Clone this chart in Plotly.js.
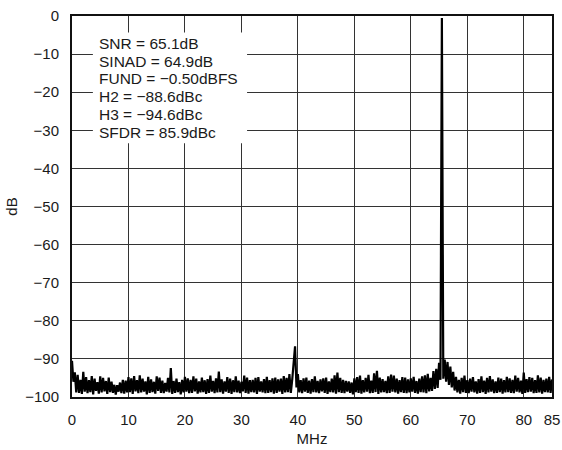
<!DOCTYPE html>
<html>
<head>
<meta charset="utf-8">
<script src="https://cdn.plot.ly/plotly-3.0.1.min.js"></script>
<style>html,body{margin:0;padding:0;background:#fff;}#chart{width:562px;height:450px;}</style>
</head>
<body>
<div id="chart"></div>
<script>
// FFT bins: 0 to 85 MHz, 0.25 MHz spacing
var binStart = 0;
var binStep = 0.25;

// Magnitude (dB) per bin (4 bins per MHz)
var magnitude = [
  -90.5, -96.0, -93.5, -98.8,   // 0
  -94.2, -98.9, -95.5, -99.2,   // 1
  -93.4, -98.6, -94.8, -99.0,   // 2
  -95.6, -98.7, -94.5, -99.3,   // 3
  -95.2, -98.4, -96.1, -99.1,   // 4
  -94.6, -98.8, -95.0, -98.5,   // 5
  -95.8, -99.2, -94.9, -98.7,   // 6
  -96.0, -98.9, -96.8, -99.4,   // 7
  -96.9, -98.6, -96.2, -99.0,   // 8
  -95.5, -99.1, -95.7, -98.8,   // 9
  -94.8, -98.7, -95.1, -99.2,   // 10
  -94.5, -98.5, -95.6, -99.0,   // 11
  -94.3, -98.8, -95.2, -98.6,   // 12
  -95.9, -99.3, -94.7, -98.9,   // 13
  -95.4, -98.7, -96.0, -99.1,   // 14
  -94.6, -98.4, -94.9, -98.9,   // 15
  -95.7, -99.0, -96.3, -98.6,   // 16
  -95.0, -98.8, -92.4, -99.2,   // 17
  -95.8, -98.9, -95.2, -98.7,   // 18
  -96.1, -99.3, -95.5, -98.8,   // 19
  -94.7, -98.6, -95.1, -99.0,   // 20
  -95.5, -98.9, -94.6, -98.5,   // 21
  -95.2, -99.1, -95.9, -98.8,   // 22
  -94.9, -98.7, -95.6, -99.2,   // 23
  -95.3, -98.9, -94.4, -98.6,   // 24
  -95.8, -99.0, -95.1, -98.8,   // 25
  -93.3, -98.7, -95.4, -99.1,   // 26
  -95.9, -98.6, -94.8, -98.9,   // 27
  -95.2, -99.2, -95.6, -98.7,   // 28
  -94.6, -98.8, -95.7, -99.0,   // 29
  -96.0, -98.5, -94.4, -98.9,   // 30
  -94.9, -99.1, -95.6, -98.7,   // 31
  -95.5, -98.8, -95.0, -99.2,   // 32
  -94.8, -98.6, -95.9, -98.8,   // 33
  -95.3, -99.0, -94.7, -98.9,   // 34
  -95.6, -98.7, -95.1, -99.1,   // 35
  -94.9, -98.9, -95.4, -98.6,   // 36
  -95.2, -99.2, -94.5, -98.8,   // 37
  -95.0, -98.7, -94.0, -98.9,   // 38
  -95.4, -91.5, -86.7, -97.5,   // 39
  -94.0, -98.8, -95.6, -99.0,   // 40
  -95.1, -98.6, -94.9, -98.9,   // 41
  -95.7, -99.1, -95.3, -98.7,   // 42
  -94.6, -98.8, -95.8, -99.0,   // 43
  -95.4, -98.5, -95.1, -98.9,   // 44
  -94.9, -99.2, -95.9, -98.7,   // 45
  -95.2, -98.8, -94.3, -99.1,   // 46
  -93.6, -98.7, -95.0, -98.9,   // 47
  -95.5, -99.0, -95.8, -98.6,   // 48
  -95.9, -98.9, -96.2, -99.3,   // 49
  -95.1, -98.7, -94.8, -98.9,   // 50
  -94.4, -99.1, -95.6, -98.8,   // 51
  -95.0, -98.6, -94.2, -99.0,   // 52
  -95.7, -98.9, -93.8, -98.7,   // 53
  -93.1, -99.2, -94.9, -98.8,   // 54
  -95.3, -98.7, -95.8, -99.0,   // 55
  -94.6, -98.9, -94.1, -98.6,   // 56
  -94.4, -98.8, -95.2, -99.1,   // 57
  -95.6, -98.7, -94.8, -98.9,   // 58
  -94.9, -99.0, -95.4, -98.8,   // 59
  -95.1, -98.6, -94.7, -98.9,   // 60
  -95.8, -99.1, -95.2, -98.7,   // 61
  -94.6, -98.8, -94.3, -99.0,   // 62
  -93.9, -98.5, -95.0, -98.4,   // 63
  -93.2, -97.9, -92.6, -97.6,   // 64
  -91.0, -95.5,  -0.5, -95.2,   // 65
  -90.2, -96.0, -90.8, -96.8,   // 66
  -92.0, -97.5, -93.4, -98.3,   // 67
  -94.7, -98.8, -95.5, -99.1,   // 68
  -95.0, -98.7, -94.4, -98.9,   // 69
  -95.6, -99.0, -95.2, -98.6,   // 70
  -94.8, -98.8, -95.9, -99.1,   // 71
  -95.3, -98.9, -94.6, -98.7,   // 72
  -95.7, -99.2, -95.0, -98.8,   // 73
  -94.5, -98.6, -95.4, -99.0,   // 74
  -95.9, -98.9, -94.9, -98.7,   // 75
  -95.2, -99.1, -95.6, -98.8,   // 76
  -94.7, -98.7, -95.1, -98.9,   // 77
  -95.5, -99.0, -94.4, -98.6,   // 78
  -95.0, -98.8, -95.7, -99.2,   // 79
  -93.6, -98.9, -95.3, -98.7,   // 80
  -94.8, -98.6, -95.0, -99.0,   // 81
  -95.6, -98.9, -94.3, -98.8,   // 82
  -94.9, -99.1, -95.5, -98.7,   // 83
  -95.2, -98.8, -94.7, -98.9,   // 84
  -95.4                         // 85
];

var xTickVals = [0, 10, 20, 30, 40, 50, 60, 70, 80, 85];
var xTickText = ["0", "10", "20", "30", "40", "50", "60", "70", "80", "85"];
var yTickVals = [0, -10, -20, -30, -40, -50, -60, -70, -80, -90, -100];

var statLines = [
  "SNR = 65.1dB",
  "SINAD = 64.9dB",
  "FUND = \u22120.50dBFS",
  "H2 = \u221288.6dBc",
  "H3 = \u221294.6dBc",
  "SFDR = 85.9dBc"
];

var freq = magnitude.map(function (v, i) { return binStart + i * binStep; });

var font = "Liberation Sans, Arial, Helvetica, sans-serif";

var trace = {
  x: freq,
  y: magnitude,
  type: "scatter",
  mode: "lines",
  line: { color: "#000", width: 2.2 },
  hoverinfo: "skip"
};

// text block layout (data units)
var textX = 4.35;
var lineY0 = -7.2, lineDY = -4.65;
var annotations = statLines.map(function (t, i) {
  return {
    x: textX, y: lineY0 + i * lineDY, xref: "x", yref: "y",
    xanchor: "left", yanchor: "middle", showarrow: false,
    text: t, font: { family: font, size: 15.5, color: "#1a1a1a" }
  };
});

var layout = {
  width: 562,
  height: 450,
  margin: { l: 72, r: 10, t: 16, b: 53, pad: 0 },
  paper_bgcolor: "#fff",
  plot_bgcolor: "#fff",
  showlegend: false,
  font: { family: font, size: 15, color: "#1a1a1a" },
  xaxis: {
    range: [0, 85],
    tickvals: xTickVals,
    ticktext: xTickText,
    ticks: "",
    ticklabelstandoff: 8,
    showgrid: true,
    gridcolor: "#333",
    gridwidth: 1,
    zeroline: false,
    showline: true,
    linecolor: "#111",
    linewidth: 2,
    mirror: true,
    title: { text: "MHz", font: { family: font, size: 15, color: "#1a1a1a" }, standoff: 6 }
  },
  yaxis: {
    range: [-100, 0],
    tickvals: yTickVals,
    ticks: "",
    ticklabelstandoff: 8,
    showgrid: true,
    gridcolor: "#333",
    gridwidth: 1,
    zeroline: false,
    showline: true,
    linecolor: "#111",
    linewidth: 2,
    mirror: true,
    title: { text: "dB", font: { family: font, size: 15, color: "#1a1a1a" }, standoff: 4 }
  },
  shapes: [{
    type: "rect", xref: "x", yref: "y",
    x0: 3.7, x1: 31.0, y0: -4.3, y1: -33.4,
    fillcolor: "#fff", line: { width: 0 }, layer: "above"
  }],
  annotations: annotations
};

Plotly.newPlot("chart", [trace], layout, { staticPlot: true, displayModeBar: false });
</script>
</body>
</html>
